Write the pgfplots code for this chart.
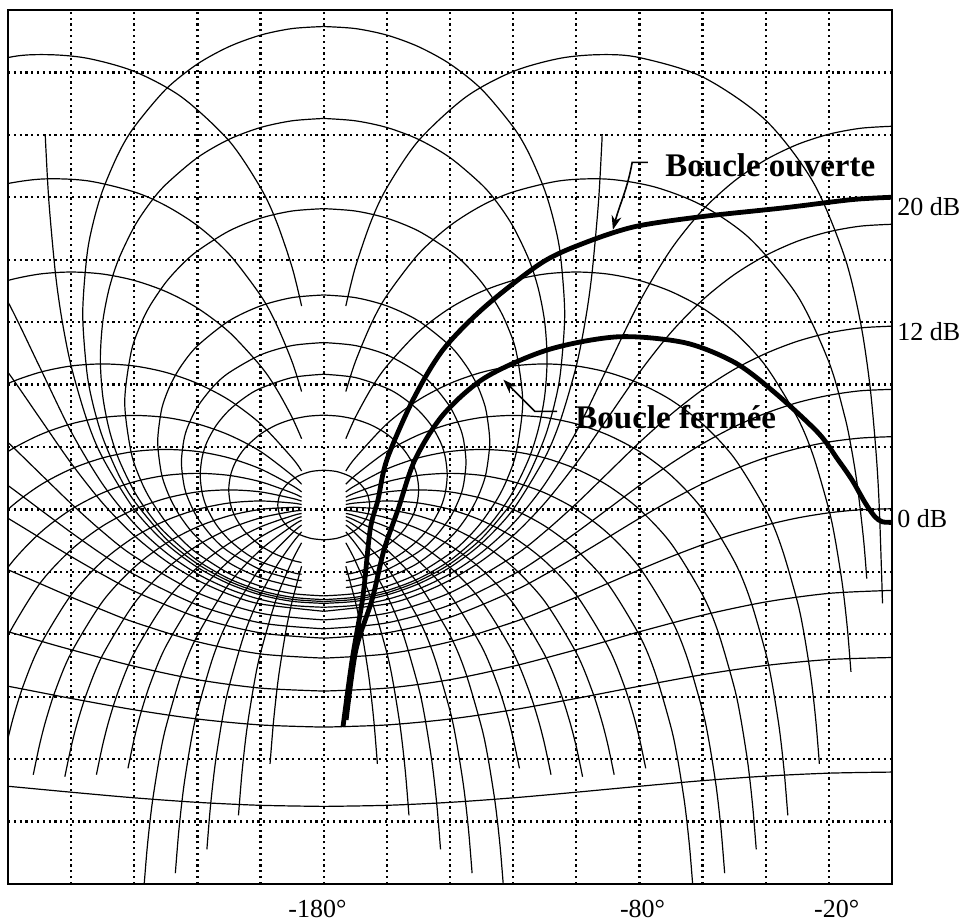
\documentclass[border=0pt]{standalone}
\usepackage{fontspec}
\setmainfont{Liberation Serif}
\usepackage{pgfplots}
\usepackage{pgfplotstable}
\pgfplotsset{compat=1.18}
\usetikzlibrary{arrows.meta}

% ---------- N contours (closed-loop phase), right/left phase, gain dB ----------
\pgfplotstableread{
pr pl g
-173 -187 13.03
-170 -190 15.50
-165 -195 18.46
-160 -200 20.61
-150 -210 23.62
-135 -225 26.42
-120 -240 28.06
-105 -255 28.91
-92 -268 29.14
-80 -280 28.95
-60 -300 27.71
-40 -320 24.93
-25 -335 20.98
-15 -345 16.18
-10 -350 12.01
-7 -353 7.95
-5 -355 3.52
-4 -356 0.00
-3 -357 -6.02
}\Ntwo
\pgfplotstableread{
pr pl g
-173 -187 7.55
-170 -190 9.45
-165 -195 11.87
-160 -200 13.71
-150 -210 16.36
-140 -220 18.18
-130 -230 19.46
-120 -240 20.34
-105 -255 21.06
-90 -270 21.16
-75 -285 20.65
-60 -300 19.46
-45 -315 17.35
-30 -330 13.71
-20 -340 9.45
-15 -345 5.98
-13 -347 4.06
-11 -349 1.57
-9 -351 -1.94
-8 -352 -4.43
}\Nfive
\pgfplotstableread{
pr pl g
-173 -187 4.53
-170 -190 5.89
-165 -195 7.73
-160 -200 9.19
-150 -210 11.37
-140 -220 12.90
-130 -230 13.96
-120 -240 14.67
-110 -250 15.08
-100 -260 15.21
-90 -270 15.08
-80 -280 14.67
-70 -290 13.96
-60 -300 12.90
-50 -310 11.37
-40 -320 9.19
-30 -330 5.89
-25 -335 3.47
-20 -340 0.00
-18 -342 -1.92
-16 -344 -4.41
-15 -345 -5.98
-14 -346 -7.92
-13 -347 -10.41
}\Nten
\pgfplotstableread{
pr pl g
-173 -187 2.46
-170 -190 3.30
-160 -200 5.48
-150 -210 7.01
-140 -220 8.07
-130 -230 8.78
-120 -240 9.19
-110 -250 9.32
-100 -260 9.19
-90 -270 8.78
-80 -280 8.07
-70 -290 7.01
-60 -300 5.48
-50 -310 3.30
-40 -320 0.00
-35 -325 -2.42
-30 -330 -5.89
-28 -332 -7.81
-26 -334 -10.30
-25 -335 -11.87
-24 -336 -13.81
-23 -337 -16.30
}\Ntwenty
\pgfplotstableread{
pr pl g
-173 -187 1.61
-170 -190 2.18
-160 -200 3.71
-150 -210 4.77
-140 -220 5.48
-130 -230 5.89
-120 -240 6.02
-110 -250 5.89
-100 -260 5.48
-90 -270 4.77
-80 -280 3.71
-70 -290 2.18
-60 -300 0.00
-50 -310 -3.30
-45 -315 -5.72
-40 -320 -9.19
-38 -322 -11.11
-36 -324 -13.60
-35 -325 -15.17
-34 -326 -17.11
-33 -327 -19.60
}\Nthirty
\pgfplotstableread{
pr pl g
-173 -187 1.12
-170 -190 1.53
-160 -200 2.59
-150 -210 3.30
-140 -220 3.71
-130 -230 3.84
-120 -240 3.71
-110 -250 3.30
-100 -260 2.59
-90 -270 1.53
-80 -280 0.00
-70 -290 -2.18
-60 -300 -5.48
-55 -305 -7.90
-50 -310 -11.37
-48 -312 -13.29
-46 -314 -15.78
-45 -315 -17.35
-44 -316 -19.29
-43 -317 -21.78
}\Nforty
\pgfplotstableread{
pr pl g
-173 -187 0.78
-170 -190 1.06
-160 -200 1.77
-150 -210 2.18
-140 -220 2.31
-130 -230 2.18
-120 -240 1.77
-110 -250 1.06
-100 -260 0.00
-90 -270 -1.53
-80 -280 -3.71
-70 -290 -7.01
-65 -295 -9.43
-60 -300 -12.90
-58 -302 -14.82
-56 -304 -17.31
-55 -305 -18.88
-54 -306 -20.82
-53 -307 -23.31
}\Nfifty
\pgfplotstableread{
pr pl g
-173 -187 0.53
-170 -190 0.71
-160 -200 1.12
-150 -210 1.25
-140 -220 1.12
-130 -230 0.71
-120 -240 0.00
-110 -250 -1.06
-100 -260 -2.59
-90 -270 -4.77
-80 -280 -8.07
-75 -285 -10.49
-70 -290 -13.96
-68 -292 -15.88
-66 -294 -18.37
-65 -295 -19.94
-64 -296 -21.88
-63 -297 -24.37
}\Nsixty
\pgfplotstableread{
pr pl g
-173 -187 0.31
-170 -190 0.41
-160 -200 0.54
-150 -210 0.41
-140 -220 0.00
-130 -230 -0.71
-120 -240 -1.77
-110 -250 -3.30
-100 -260 -5.48
-90 -270 -8.78
-85 -275 -11.20
-82 -278 -13.10
-80 -280 -14.67
-78 -282 -16.59
}\Nseventy
\pgfplotstableread{
pr pl g
-173 -187 0.12
-170 -190 0.13
-160 -200 0.00
-150 -210 -0.41
-140 -220 -1.12
-130 -230 -2.18
-120 -240 -3.71
-110 -250 -5.89
-100 -260 -9.19
-95 -265 -11.61
-92 -268 -13.51
-90 -270 -15.08
-88 -272 -17.00
}\Neighty
\pgfplotstableread{
pr pl g
-173 -187 -0.07
-170 -190 -0.13
-160 -200 -0.54
-150 -210 -1.25
-140 -220 -2.31
-130 -230 -3.84
-120 -240 -6.02
-110 -250 -9.32
-105 -255 -11.74
-102 -258 -13.64
-100 -260 -15.21
-98 -262 -17.13
}\Nninety
\pgfplotstableread{
pr pl g
-173 -187 -0.26
-170 -190 -0.41
-160 -200 -1.12
-150 -210 -2.18
-140 -220 -3.71
-130 -230 -5.89
-120 -240 -9.19
-115 -245 -11.61
-112 -248 -13.51
-110 -250 -15.08
-108 -252 -17.00
}\Nhundred
\pgfplotstableread{
pr pl g
-173 -187 -0.46
-170 -190 -0.71
-160 -200 -1.77
-150 -210 -3.30
-140 -220 -5.48
-130 -230 -8.78
-125 -235 -11.20
-122 -238 -13.10
-120 -240 -14.67
-118 -242 -16.59
}\Nhundredten
\pgfplotstableread{
pr pl g
-173 -187 -0.70
-170 -190 -1.06
-160 -200 -2.59
-150 -210 -4.77
-140 -220 -8.07
-135 -225 -10.49
-130 -230 -13.96
-128 -232 -15.88
-126 -234 -18.37
-125 -235 -19.94
-124 -236 -21.88
-123 -237 -24.37
}\Nhundredtwenty
\pgfplotstableread{
pr pl g
-173 -187 -1.01
-170 -190 -1.53
-160 -200 -3.71
-150 -210 -7.01
-145 -215 -9.43
-140 -220 -12.90
-138 -222 -14.82
-136 -224 -17.31
-135 -225 -18.88
-134 -226 -20.82
-133 -227 -23.31
}\Nhundredthirty
\pgfplotstableread{
pr pl g
-173 -187 -1.44
-170 -190 -2.18
-165 -195 -3.64
-160 -200 -5.48
-155 -205 -7.90
-150 -210 -11.37
-148 -212 -13.29
-146 -214 -15.78
-145 -215 -17.35
-144 -216 -19.29
-143 -217 -21.78
}\Nhundredforty
\pgfplotstableread{
pr pl g
-173 -187 -2.14
-170 -190 -3.30
-165 -195 -5.72
-160 -200 -9.19
-158 -202 -11.11
-156 -204 -13.60
-155 -205 -15.17
-154 -206 -17.11
-153 -207 -19.60
}\Nhundredfifty
\pgfplotstableread{
pr pl g
-173 -187 -3.64
-170 -190 -5.89
-168 -192 -7.81
-166 -194 -10.30
-165 -195 -11.87
-164 -196 -13.81
-163 -197 -16.30
}\Nhundredsixty

% ---------- closed M contours (right half; left = mirror) ----------
\pgfplotstableread{
pr pl g
-180 -180 30.94
-170 -190 30.81
-160 -200 30.39
-150 -210 29.65
-140 -220 28.54
-130 -230 26.92
-120 -240 24.51
-115 -245 22.81
-110 -250 20.45
-107 -253 18.38
-105 -255 16.27
-103.67 -256.33 12.52
-105 -255 8.78
-107 -253 6.67
-110 -250 4.60
-115 -245 2.24
-120 -240 0.53
-130 -230 -1.87
-140 -220 -3.49
-150 -210 -4.60
-160 -200 -5.34
-170 -190 -5.76
-180 -180 -5.90
}\Mquarter
\pgfplotstableread{
pr pl g
-180 -180 25.05
-170 -190 24.90
-160 -200 24.47
-150 -210 23.71
-140 -220 22.54
-130 -230 20.82
-125 -235 19.64
-120 -240 18.12
-115 -245 16.01
-112 -248 14.12
-110 -250 12.00
-109.25 -250.75 9.63
-110 -250 7.28
-112 -248 5.16
-115 -245 3.26
-120 -240 1.15
-125 -235 -0.37
-130 -230 -1.54
-140 -220 -3.27
-150 -210 -4.44
-160 -200 -5.20
-170 -190 -5.63
-180 -180 -5.78
}\Mhalf
\pgfplotstableread{
pr pl g
-180 -180 19.27
-170 -190 19.12
-160 -200 18.66
-150 -210 17.84
-140 -220 16.56
-135 -225 15.67
-130 -230 14.55
-125 -235 13.06
-122 -238 11.84
-119 -241 10.08
-116.97 -243.03 6.87
-119 -241 3.66
-122 -238 1.89
-125 -235 0.68
-130 -230 -0.81
-135 -225 -1.94
-140 -220 -2.82
-150 -210 -4.10
-160 -200 -4.92
-170 -190 -5.39
-180 -180 -5.54
}\Mone
\pgfplotstableread{
pr pl g
-180 -180 13.74
-170 -190 13.57
-160 -200 13.04
-150 -210 12.08
-140 -220 10.48
-135 -225 9.24
-132 -228 8.21
-130 -230 7.28
-128.5 -231.5 6.26
-127.41 -232.59 4.33
-128.5 -231.5 2.40
-130 -230 1.38
-132 -228 0.45
-135 -225 -0.58
-140 -220 -1.82
-150 -210 -3.42
-160 -200 -4.38
-170 -190 -4.91
-173 -187 -5.00
}\Mtwo
\pgfplotstableread{
pr pl g
-180 -180 10.69
-170 -190 10.50
-160 -200 9.90
-150 -210 8.76
-145 -215 7.87
-140 -220 6.57
-137 -223 5.33
-135.7 -224.3 4.44
-134.93 -225.07 3.02
-135.7 -224.3 1.60
-137 -223 0.71
-140 -220 -0.53
-145 -215 -1.83
-150 -210 -2.72
-160 -200 -3.86
-170 -190 -4.46
-173 -187 -4.56
}\Mthree
\pgfplotstableread{
pr pl g
-180 -180 8.66
-170 -190 8.45
-160 -200 7.76
-155 -205 7.17
-150 -210 6.35
-146 -214 5.40
-143 -217 4.31
-141.5 -218.5 3.35
-140.88 -219.12 2.20
-141.5 -218.5 1.06
-143 -217 0.10
-146 -214 -0.99
-150 -210 -1.94
-155 -205 -2.77
-160 -200 -3.35
-170 -190 -4.04
-173 -187 -4.15
}\Mfour
\pgfplotstableread{
pr pl g
-180 -180 6.04
-175 -185 5.97
-170 -190 5.77
-165 -195 5.41
-160 -200 4.83
-155 -205 3.92
-152 -208 3.01
-150.5 -209.5 2.19
-149.92 -210.08 1.26
-150.5 -209.5 0.32
-152 -208 -0.49
-155 -205 -1.41
-160 -200 -2.32
-165 -195 -2.89
-170 -190 -3.26
-173 -187 -3.40
}\Msix
\pgfplotstableread{
pr pl g
-180 -180 2.51
-176 -184 2.43
-172 -188 2.15
-169 -191 1.74
-167 -193 1.28
-166 -194 0.89
-165.45 -194.55 0.28
-166 -194 -0.32
-167 -193 -0.72
-169 -191 -1.18
-172 -188 -1.58
-176 -184 -1.86
-180 -180 -1.95
}\Mtwelve

% ---------- open M contours ----------
\pgfplotstableread{
pr pl g
-180 -180 -6.02
-170 -190 -5.89
-160 -200 -5.48
-150 -210 -4.77
-140 -220 -3.71
-130 -230 -2.18
-120 -240 0.00
-110 -250 3.30
-105 -255 5.72
-100 -260 9.19
-97 -263 12.26
-95 -265 15.17
-93 -267 19.60
-92 -268 23.12
-91.8 -268.2 24.04
}\Mzero
\pgfplotstableread{
pr pl g
-180 -180 -6.27
-170 -190 -6.15
-160 -200 -5.77
-150 -210 -5.10
-140 -220 -4.13
-130 -230 -2.76
-120 -240 -0.91
-110 -250 1.61
-100 -260 4.98
-90 -270 9.14
-80 -280 13.29
-70 -290 16.66
-60 -300 19.18
-50 -310 21.03
-40 -320 22.40
-30 -330 23.38
-20 -340 24.04
-10 -350 24.42
0 -360 24.55
}\Mmhalf
\pgfplotstableread{
pr pl g
-180 -180 -6.53
-160 -200 -6.06
-150 -210 -5.44
-140 -220 -4.53
-130 -230 -3.30
-120 -240 -1.68
-110 -250 0.40
-100 -260 2.96
-90 -270 5.87
-80 -280 8.78
-70 -290 11.34
-60 -300 13.42
-50 -310 15.04
-40 -320 16.27
-30 -330 17.18
-20 -340 17.79
-10 -350 18.15
0 -360 18.27
}\Mmone
\pgfplotstableread{
pr pl g
-180 -180 -7.08
-160 -200 -6.65
-140 -220 -5.34
-120 -240 -3.01
-110 -250 -1.44
-100 -260 0.37
-90 -270 2.33
-80 -280 4.29
-70 -290 6.09
-60 -300 7.67
-50 -310 8.97
-40 -320 9.99
-30 -330 10.77
-20 -340 11.31
-10 -350 11.63
0 -360 11.74
}\Mmtwo
\pgfplotstableread{
pr pl g
-180 -180 -7.65
-160 -200 -7.27
-140 -220 -6.12
-120 -240 -4.17
-110 -250 -2.90
-100 -260 -1.48
-90 -270 0.02
-80 -280 1.53
-70 -290 2.94
-60 -300 4.21
-50 -310 5.29
-40 -320 6.16
-30 -330 6.84
-20 -340 7.31
-10 -350 7.60
0 -360 7.69
}\Mmthree
\pgfplotstableread{
pr pl g
-180 -180 -8.25
-160 -200 -7.91
-140 -220 -6.91
-120 -240 -5.24
-110 -250 -4.18
-100 -260 -3.02
-90 -270 -1.80
-80 -280 -0.57
-70 -290 0.59
-60 -300 1.65
-50 -310 2.56
-40 -320 3.32
-30 -330 3.90
-20 -340 4.32
-10 -350 4.57
0 -360 4.66
}\Mmfour
\pgfplotstableread{
pr pl g
-180 -180 -9.53
-160 -200 -9.26
-140 -220 -8.48
-120 -240 -7.23
-110 -250 -6.45
-100 -260 -5.62
-90 -270 -4.74
-80 -280 -3.87
-70 -290 -3.03
-60 -300 -2.26
-50 -310 -1.58
-40 -320 -1.01
-30 -330 -0.55
-20 -340 -0.22
-10 -350 -0.02
0 -360 0.04
}\Mmsix
\pgfplotstableread{
pr pl g
-180 -180 -11.64
-160 -200 -11.45
-140 -220 -10.91
-120 -240 -10.05
-100 -260 -8.99
-90 -270 -8.42
-80 -280 -7.84
-60 -300 -6.78
-40 -320 -5.93
-20 -340 -5.38
0 -360 -5.19
}\Mmnine
\pgfplotstableread{
pr pl g
-180 -180 -13.95
-160 -200 -13.81
-140 -220 -13.43
-120 -240 -12.84
-100 -260 -12.11
-90 -270 -11.72
-80 -280 -11.33
-60 -300 -10.59
-40 -320 -10.00
-20 -340 -9.62
0 -360 -9.49
}\Mmtwelve
\pgfplotstableread{
pr pl g
-180 -180 -19.03
-160 -200 -18.96
-140 -220 -18.77
-120 -240 -18.48
-100 -260 -18.12
-80 -280 -17.74
-60 -300 -17.38
-40 -320 -17.09
-20 -340 -16.90
0 -360 -16.83
}\Mmeighteen

\pgfplotsset{cont/.style={black, line width=0.6pt, smooth, mark=none}}
\newcommand\both[1]{%
  \addplot[cont] table[x=pr,y=g]{#1};
  \addplot[cont] table[x=pl,y=g]{#1};}

\begin{document}
\begin{tikzpicture}
\begin{axis}[
  scale only axis, width=442pt, height=437pt,
  xmin=-280, xmax=0, ymin=-24, ymax=32,
  axis line style={line width=0.8pt},
  xtick={-182,-79,-17.5}, xticklabels={-180°,-80°,-20°},
  ytick={0,12,20}, yticklabels={0 dB,12 dB,20 dB},
  yticklabel pos=right,
  minor xtick={-260,-240,...,-20},
  minor ytick={-20,-16,...,28},
  grid=minor,
  minor grid style={black, line width=1.1pt, dash pattern=on 1.1pt off 1.8pt},
  major tick length=0pt, minor tick length=0pt,
  tick style={draw=none},
  tick label style={font=\fontsize{13}{15}\selectfont},
  xticklabel style={inner sep=0pt, anchor=north, yshift=-8pt},
  yticklabel style={inner sep=0pt, anchor=west, xshift=2.5pt, yshift=-4.5pt},
]
% N contours
\both{\Ntwo}\both{\Nfive}\both{\Nten}\both{\Ntwenty}\both{\Nthirty}
\both{\Nforty}\both{\Nfifty}\both{\Nsixty}\both{\Nseventy}\both{\Neighty}
\both{\Nninety}\both{\Nhundred}\both{\Nhundredten}\both{\Nhundredtwenty}
\both{\Nhundredthirty}\both{\Nhundredforty}\both{\Nhundredfifty}\both{\Nhundredsixty}
% M contours
\both{\Mquarter}\both{\Mhalf}\both{\Mone}\both{\Mtwo}\both{\Mthree}
\both{\Mfour}\both{\Msix}\both{\Mtwelve}
\both{\Mzero}\both{\Mmhalf}\both{\Mmone}\both{\Mmtwo}\both{\Mmthree}
\both{\Mmfour}\both{\Mmsix}\both{\Mmnine}\both{\Mmtwelve}\both{\Mmeighteen}

% Boucle ouverte
\addplot[black, line width=2.4pt, smooth, mark=none] coordinates {
(-173.9,-13.94) (-171.0,-9.64) (-167.6,-5.60) (-165.3,-1.31) (-162.8,0.62)
(-160.0,3.18) (-151.7,7.03) (-142.2,10.23) (-128.9,12.99) (-110.9,15.81)
(-97.2,17.09) (-81.4,18.12) (-60.2,18.76) (-33.9,19.33) (-12.7,19.85) (0,20.0)};
% Boucle fermee
\addplot[black, line width=2.4pt, smooth, mark=none] coordinates {
(-172.9,-13.49) (-169.8,-9.0) (-164.7,-5.79) (-160.9,-2.59) (-156.5,-0.03)
(-151.1,3.18) (-142.2,6.06) (-128.9,8.44) (-108.95,10.23) (-86.8,11.06)
(-65.6,10.68) (-49.7,9.4) (-37.05,7.47) (-23.4,4.91) (-17.1,3.18)
(-12.7,1.9) (-8.5,0.42) (-5.4,-0.47) (-3.1,-0.79) (0,-0.83)};

\node[anchor=base west, inner sep=0pt, font=\fontsize{16.5}{19}\selectfont\bfseries]
  at (axis cs:-71.9,21.34) {Boucle ouverte};
\node[anchor=base west, inner sep=0pt, font=\fontsize{16.5}{19}\selectfont\bfseries]
  at (axis cs:-100.4,5.21) {Boucle fermée};
\draw[line width=0.8pt, -{Stealth[length=7pt,width=5pt]}]
  (axis cs:-77.3,22.24) -- (axis cs:-82.3,22.24)
  to[out=-100,in=75] (axis cs:-88.4,17.92);
\draw[line width=0.8pt, -{Stealth[length=7pt,width=5pt]}]
  (axis cs:-106.1,6.28) -- (axis cs:-113.1,6.28) -- (axis cs:-123.1,8.31);
\end{axis}
\path ([shift={(-4pt,-19pt)}]current axis.south west) rectangle ([shift={(39.5pt,5pt)}]current axis.north east);
\end{tikzpicture}
\end{document}
